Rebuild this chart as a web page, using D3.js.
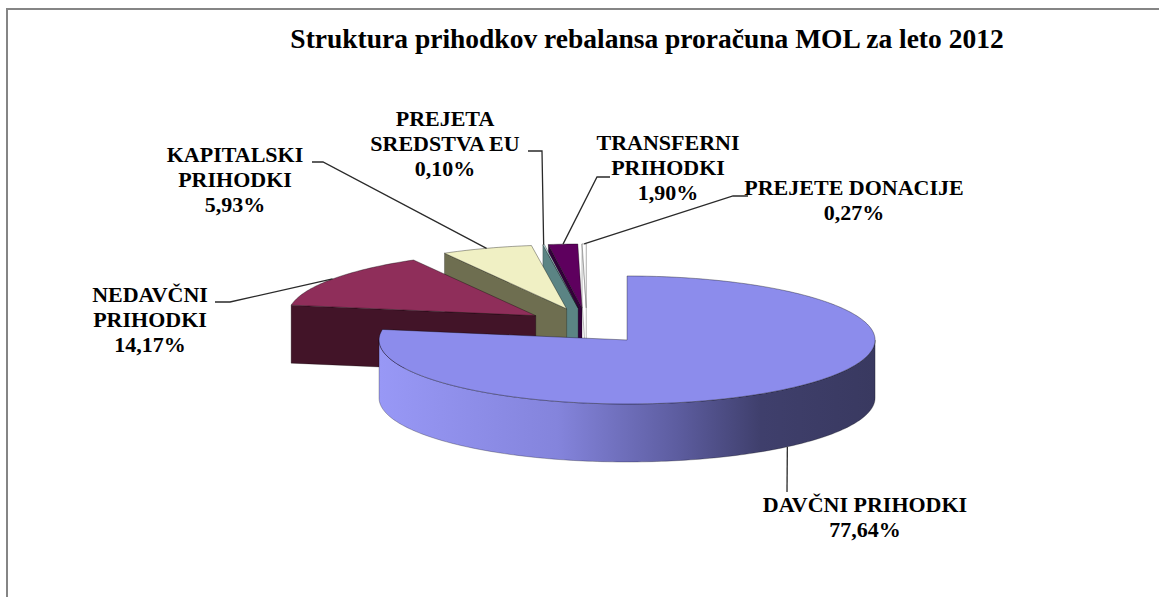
<!DOCTYPE html>
<html>
<head>
<meta charset="utf-8">
<script src="https://cdn.jsdelivr.net/npm/d3@7"></script>
<style>
body { margin: 0; background: #fff; }
svg text { font-family: "Liberation Serif", "Times New Roman", serif; font-weight: bold; fill: #000; }
</style>
</head>
<body>
<svg id="chart" width="1159" height="597"></svg>
<script>
const title = "Struktura prihodkov rebalansa proračuna MOL za leto 2012";
const categories = ["DAVČNI PRIHODKI", "NEDAVČNI PRIHODKI", "KAPITALSKI PRIHODKI",
    "PREJETA SREDSTVA EU", "TRANSFERNI PRIHODKI", "PREJETE DONACIJE"];
const values = [77.64, 14.17, 5.93, 0.10, 1.90, 0.27];
const labelLines = [["DAVČNI PRIHODKI"], ["NEDAVČNI", "PRIHODKI"], ["KAPITALSKI", "PRIHODKI"],
    ["PREJETA", "SREDSTVA EU"], ["TRANSFERNI", "PRIHODKI"], ["PREJETE DONACIJE"]];

const topColors = ["#8c8cec", "#8f2e5a", "#f0f0c4", "#c4eeee", "#5e005e", "#ffffff"];
const sideColors = ["#3c3c66", "#421428", "#6e6e50", "#5b8484", "#33003a", "#ffffff"];

// label layout: [centre x, first baseline]
const labelPos = [[865, 512], [150, 302], [235, 162], [445, 126], [668, 150], [854, 195]];
const leaderFrom = [[787, 492], [215, 302], [312, 162], [528, 151], [610, 177], [748, 196]];
const leaderElbow = [null, [230, 302], [323, 162], [542, 151], [597, 177], [733, 196]];

const svg = d3.select("#chart");
const fmtPct = v => d3.format(".2f")(v).replace(".", ",") + "%";

// 3d pie geometry
const C = {x: 586.8, y: 326.1};
const rx = 248, ry = 64, depth = 58;
const explode = 62.3, explodeK = 0.292;

const slices = d3.pie().sort(null).value(d => d)(values).map((p, i) => {
    const m = (p.startAngle + p.endAngle) / 2;
    return {...p, i, m,
        ox: C.x + explode * Math.sin(m),
        oy: C.y - explode * explodeK * Math.cos(m)};
});

const rim = (s, a, dy = 0) => [s.ox + rx * Math.sin(a), s.oy - ry * Math.cos(a) + dy];
function arcPts(s, a0, a1, dy = 0) {
    const n = Math.max(2, Math.ceil(Math.abs(a1 - a0) / 0.02));
    return d3.range(n + 1).map(k => rim(s, a0 + (a1 - a0) * k / n, dy));
}
const line = d3.line();

// border
svg.append("rect")
    .attr("x", 7).attr("y", 9).attr("width", 1300).attr("height", 800)
    .attr("fill", "none").attr("stroke", "#858585").attr("stroke-width", 2);

svg.append("text")
    .attr("x", 647).attr("y", 48)
    .attr("text-anchor", "middle")
    .style("font-size", "27.5px")
    .text(title);

const defs = svg.append("defs");
const grad = defs.append("linearGradient")
    .attr("id", "sideGrad")
    .attr("gradientUnits", "userSpaceOnUse")
    .attr("x1", slices[0].ox - rx).attr("x2", slices[0].ox + rx)
    .attr("y1", 0).attr("y2", 0);
[[0, "#9898f6"], [0.36, "#8484dc"], [0.6, "#5d5da0"], [0.77, "#3f3f6c"], [1, "#393960"]]
    .forEach(([o, c]) => grad.append("stop").attr("offset", o).attr("stop-color", c));

const pieG = svg.append("g");
const sorted = slices.slice().sort((a, b) => a.oy - b.oy);

// side faces, back to front
sorted.forEach(s => {
    const apex = [s.ox, s.oy];
    const down = p => [p[0], p[1] + depth];
    const stroke = s.i === 5 ? "#8a8a8a" : "rgba(0,0,0,0.45)";
    if (Math.sin(s.startAngle) < -1e-6) {
        const r = rim(s, s.startAngle);
        pieG.append("path")
            .attr("d", line([r, apex, down(apex), down(r)]) + "Z")
            .attr("fill", sideColors[s.i]).attr("stroke", stroke).attr("stroke-width", 0.6);
    }
    if (Math.sin(s.endAngle) > 1e-6) {
        const r = rim(s, s.endAngle);
        pieG.append("path")
            .attr("d", line([r, apex, down(apex), down(r)]) + "Z")
            .attr("fill", sideColors[s.i]).attr("stroke", stroke).attr("stroke-width", 0.6);
    }
    const lo = Math.max(s.startAngle, Math.PI / 2), hi = Math.min(s.endAngle, 3 * Math.PI / 2);
    if (hi > lo) {
        const pts = arcPts(s, lo, hi).concat(arcPts(s, hi, lo, depth));
        pieG.append("path")
            .attr("d", line(pts) + "Z")
            .attr("fill", s.i === 0 ? "url(#sideGrad)" : sideColors[s.i])
            .attr("stroke", stroke).attr("stroke-width", 0.6);
    }
});

// top faces
sorted.forEach(s => {
    const pts = [[s.ox, s.oy]].concat(arcPts(s, s.startAngle, s.endAngle));
    pieG.append("path")
        .attr("d", line(pts) + "Z")
        .attr("fill", topColors[s.i])
        .attr("stroke", s.i === 5 ? "#8a8a8a" : "rgba(0,0,0,0.5)")
        .attr("stroke-width", 0.7);
});

// leader lines
slices.forEach(s => {
    const front = Math.cos(s.m) < 0;
    const target = rim(s, s.m, front ? depth : 0);
    const pts = [leaderFrom[s.i]];
    if (leaderElbow[s.i]) pts.push(leaderElbow[s.i]);
    pts.push(target);
    svg.append("path")
        .attr("d", line(pts))
        .attr("fill", "none")
        .attr("stroke", "#2a2a2a")
        .attr("stroke-width", 1.3);
});

// labels
slices.forEach(s => {
    const [x, y] = labelPos[s.i];
    const t = svg.append("text")
        .attr("text-anchor", "middle")
        .style("font-size", "22px");
    labelLines[s.i].concat([fmtPct(values[s.i])]).forEach((txt, k) => {
        t.append("tspan").attr("x", x).attr("y", y + k * 25).text(txt);
    });
});
</script>
</body>
</html>
